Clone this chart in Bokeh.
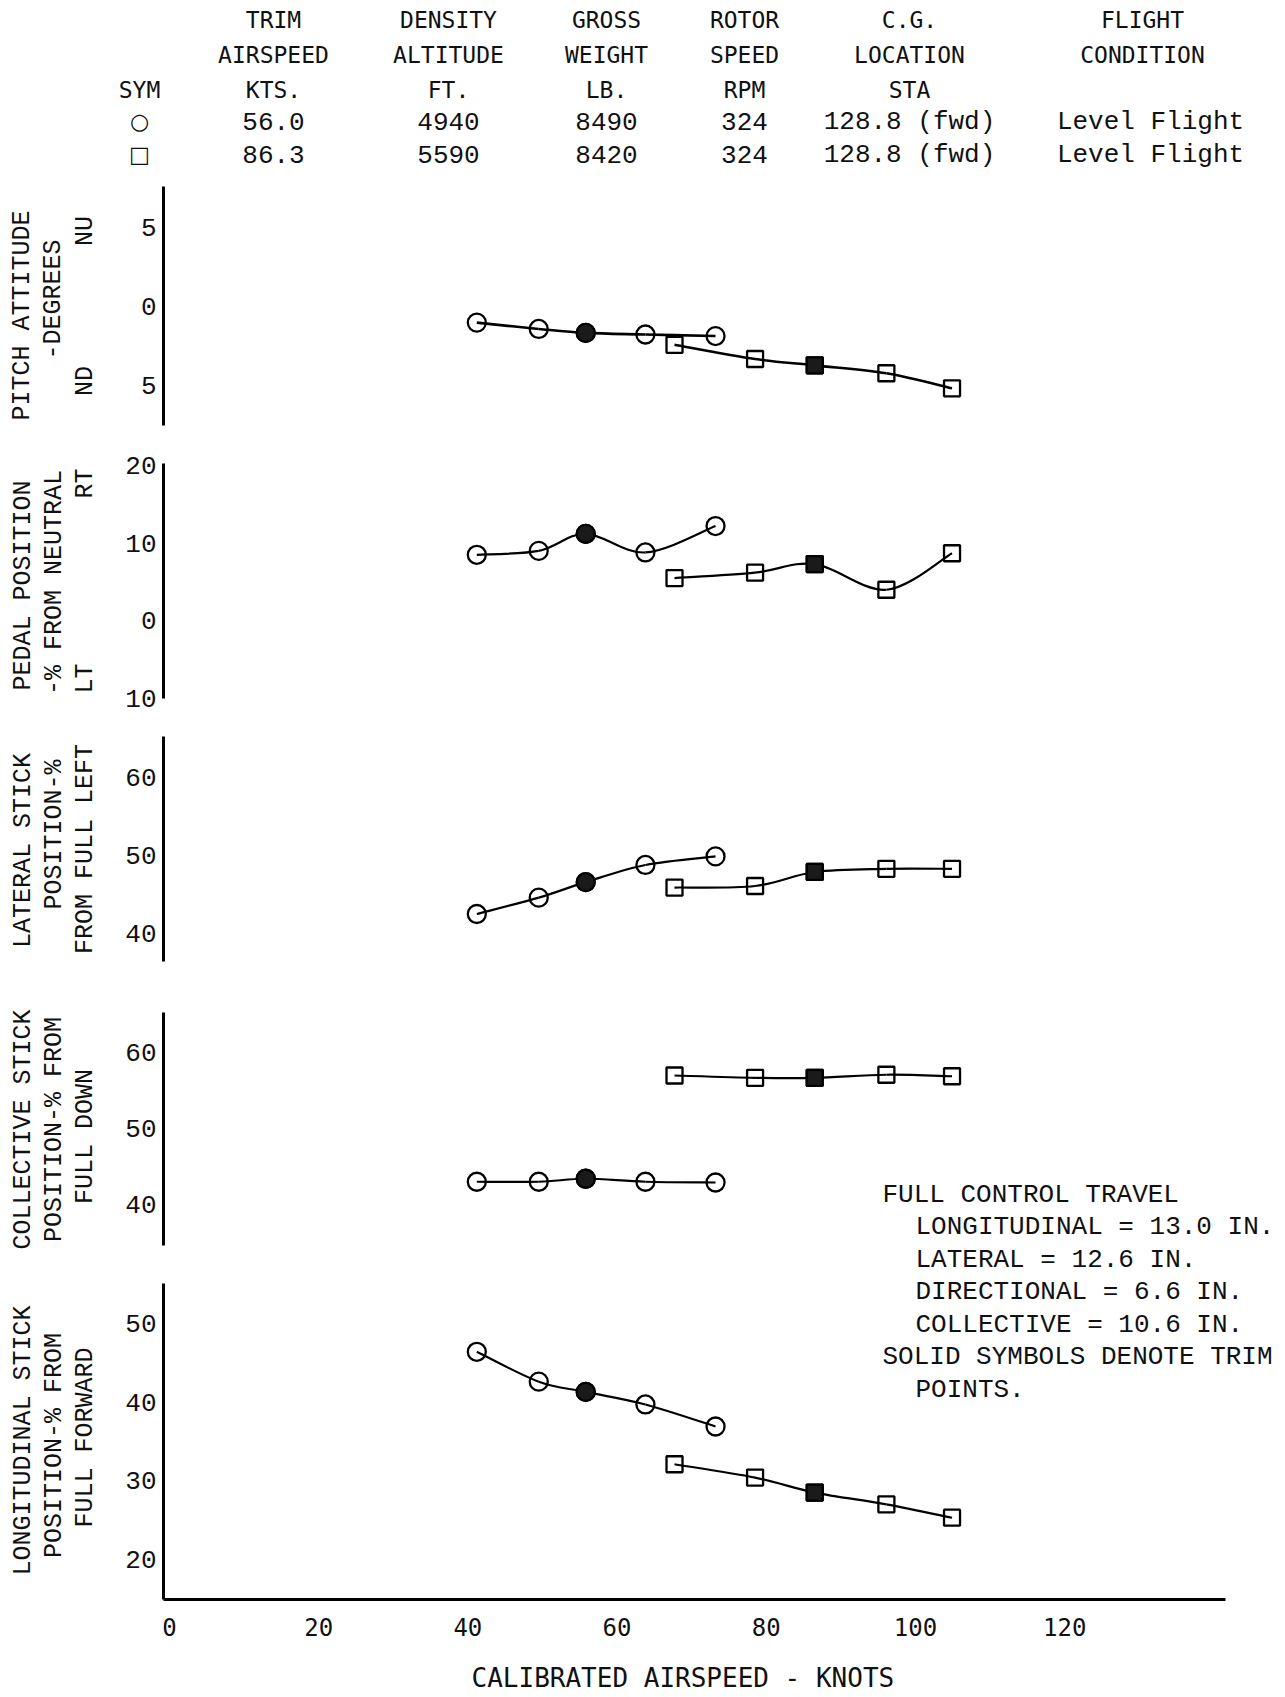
import math
from bokeh.plotting import figure
from bokeh.layouts import column
from bokeh.models import Range1d, Label, ColumnDataSource, FixedTicker, Title
from bokeh.core.properties import value
from bokeh.embed import file_html
from bokeh.resources import INLINE

# ---------------- data ----------------
header_line1 = ["", "TRIM", "DENSITY", "GROSS", "ROTOR", "C.G.", "FLIGHT"]
header_line2 = ["", "AIRSPEED", "ALTITUDE", "WEIGHT", "SPEED", "LOCATION", "CONDITION"]
header_units = ["SYM", "KTS.", "FT.", "LB.", "RPM", "STA", ""]
row_circle = ["\u25cb", "56.0", "4940", "8490", "324", "128.8 (fwd)", "Level Flight"]
row_square = ["\u25a1", "86.3", "5590", "8420", "324", "128.8 (fwd)", "Level Flight"]

airspeed_circle = [41.2, 49.5, 55.8, 63.8, 73.2]
airspeed_square = [67.7, 78.5, 86.5, 96.1, 104.9]
trim_index = 2

pitch_circle = [-1.0, -1.4, -1.65, -1.75, -1.85]
pitch_square = [-2.4, -3.3, -3.7, -4.2, -5.15]
pedal_circle = [8.5, 9.0, 11.2, 8.8, 12.2]
pedal_square = [5.5, 6.2, 7.3, 4.0, 8.7]
lateral_circle = [42.5, 44.6, 46.6, 48.8, 49.9]
lateral_square = [45.9, 46.1, 47.9, 48.3, 48.3]
collective_circle = [43.0, 43.0, 43.4, 43.0, 42.9]
collective_square = [57.0, 56.7, 56.7, 57.1, 56.9]
longitudinal_circle = [46.4, 42.6, 41.3, 39.7, 36.9]
longitudinal_square = [32.1, 30.4, 28.5, 27.0, 25.3]

x_ticks = [0, 20, 40, 60, 80, 100, 120]
x_title = "CALIBRATED AIRSPEED - KNOTS"

note_lines = ["FULL CONTROL TRAVEL", "LONGITUDINAL = 13.0 IN.", "LATERAL = 12.6 IN.",
              "DIRECTIONAL = 6.6 IN.", "COLLECTIVE = 10.6 IN.",
              "SOLID SYMBOLS DENOTE TRIM", "POINTS."]

NB = "\u00a0"
# ---------------- layout constants ----------------
W = 1280
FRAME_LEFT = 163
PX_PER_KT = 7.46
X0 = -0.8
X_AXIS_END = 141.5
XR = (X0, X0 + (W - FRAME_LEFT) / PX_PER_KT)
MONO = "Liberation Mono"
SANSMONO = "DejaVu Sans Mono"
LBL_FS = 25

x_range = Range1d(*XR)


def page_x(px):
    return XR[0] + (px - FRAME_LEFT) / PX_PER_KT


def smooth(p, xs, ys, lw):
    pts = list(zip(xs, ys))
    ext = [pts[0]] + pts + [pts[-1]]
    d = dict(x0=[], y0=[], x1=[], y1=[], cx0=[], cy0=[], cx1=[], cy1=[])
    for i in range(len(pts) - 1):
        p0, p1, p2, p3 = ext[i], ext[i + 1], ext[i + 2], ext[i + 3]
        d["x0"].append(p1[0]); d["y0"].append(p1[1])
        d["x1"].append(p2[0]); d["y1"].append(p2[1])
        d["cx0"].append(p1[0] + (p2[0] - p0[0]) / 6); d["cy0"].append(p1[1] + (p2[1] - p0[1]) / 6)
        d["cx1"].append(p2[0] - (p3[0] - p1[0]) / 6); d["cy1"].append(p2[1] - (p3[1] - p1[1]) / 6)
    p.bezier(x0="x0", y0="y0", x1="x1", y1="y1", cx0="cx0", cy0="cy0", cx1="cx1", cy1="cy1",
             source=ColumnDataSource(d), line_color="black", line_width=lw)


def series(p, xs, ys, marker, size, lw):
    smooth(p, xs, ys, lw)
    p.scatter(xs, ys, marker=marker, size=size, fill_color=None, line_color="black", line_width=2.3)
    p.scatter([xs[trim_index]], [ys[trim_index]], marker=marker, size=size,
              fill_color="#1a1a1a", line_color="black", line_width=2.3)


# ---------------- header ----------------
HDR_H = 175
hdr = figure(width=W, height=HDR_H, x_range=Range1d(0, W), y_range=Range1d(HDR_H, 0),
             output_backend="svg", toolbar_location=None, x_axis_location=None,
             y_axis_location=None, min_border=0)
if hasattr(hdr, "frame_align"):
    hdr.frame_align = False
hdr.grid.visible = False
hdr.outline_line_color = None
col_x = [139, 273, 448, 606, 744, 909, 1142]
row_y = [19.5, 54, 89, 121, 154]
hx, hy, ht = [], [], []
for r, row in enumerate([header_line1, header_line2, header_units]):
    for c, t in enumerate(row):
        if t:
            hx.append(col_x[c]); hy.append(row_y[r]); ht.append(t)
hdr.text(x=hx, y=hy, text=ht, text_font=value(SANSMONO), text_font_size="23px",
         text_align="center", text_baseline="middle", text_color="#111")
vx, vy, vt = [], [], []
for r, row in zip([3, 4], [row_circle, row_square]):
    for c, t in enumerate(row):
        if c == 0:
            continue
        vx.append(col_x[c] + (8 if c == 6 else 0)); vy.append(row_y[r]); vt.append(t)
hdr.text(x=vx, y=vy, text=vt, text_font=value(MONO), text_font_size="26px",
         text_align="center", text_baseline="middle", text_color="#111")
hdr.text(x=[col_x[0], col_x[0]], y=[row_y[3], row_y[4]], text=[row_circle[0], row_square[0]],
         text_font=value("DejaVu Sans"), text_font_size="22px",
         text_align="center", text_baseline="middle", text_color="#111")


# ---------------- panels ----------------
def make_panel(height, fig_top, b_top, b_bot, yr, bounds, ticks, overrides, labels, notes,
               label_chars=2, show_x=False):
    p = figure(width=W, height=height, x_range=x_range, y_range=Range1d(*yr),
               output_backend="svg", toolbar_location=None,
               x_axis_location="below" if show_x else None,
               min_border_left=FRAME_LEFT, min_border_right=0,
               min_border_top=b_top, min_border_bottom=b_bot)
    p.grid.visible = False
    p.outline_line_color = None
    frame_top = fig_top + b_top
    frame_bot = fig_top + height - b_bot

    def page_y(py):
        return yr[1] - (py - frame_top) / (frame_bot - frame_top) * (yr[1] - yr[0])

    ax = p.yaxis[0]
    ax.ticker = FixedTicker(ticks=ticks)
    ax.major_label_overrides = overrides
    if bounds is not None:
        ax.bounds = bounds
    ax.axis_line_width = 3
    ax.axis_line_color = "black"
    ax.major_tick_line_color = None
    ax.minor_tick_line_color = None
    ax.major_tick_out = 0
    ax.major_tick_in = 0
    ax.major_label_standoff = 7
    ax.major_label_text_font = MONO
    ax.major_label_text_font_size = "26px"
    ax.major_label_text_color = "#111"
    # innermost rotated line is the axis label, the two outer ones are titles
    ax.axis_label = labels[2][0]
    ax.axis_label_text_font = MONO
    ax.axis_label_text_font_size = f"{LBL_FS}px"
    ax.axis_label_text_font_style = "normal"
    ax.axis_label_text_color = "#111"
    ax.axis_label_standoff = int(round(22 + (2 - label_chars) * 15.6))
    for k, (t, center) in enumerate([labels[1], labels[0]]):
        w = len(t) * 0.6 * LBL_FS
        off = (frame_bot - center) - w / 2
        p.add_layout(Title(text=t, align="left", offset=off, standoff=0,
                           text_font=MONO, text_font_size=f"{LBL_FS}px",
                           text_font_style="normal", text_color="#111"), "left")
    for (px, py, t) in notes:
        p.add_layout(Label(x=page_x(px), y=page_y(py), text=t,
                           text_font=MONO, text_font_size="26px", text_color="#111",
                           text_align="left", text_baseline="middle"))
    if show_x:
        xa = p.xaxis[0]
        xa.ticker = FixedTicker(ticks=x_ticks)
        xa.bounds = (X0, X_AXIS_END)
        xa.axis_line_width = 3
        xa.axis_line_color = "black"
        xa.major_tick_line_color = None
        xa.minor_tick_line_color = None
        xa.major_tick_out = 0
        xa.major_tick_in = 0
        xa.major_label_standoff = 18
        xa.major_label_text_font = SANSMONO
        xa.major_label_text_font_size = "24px"
        xa.major_label_text_color = "#111"
        # trailing no-break spaces shift the centred title left, over the drawn axis
        xa.axis_label = x_title + NB * 5
        xa.axis_label_text_font = SANSMONO
        xa.axis_label_text_font_size = "26px"
        xa.axis_label_text_font_style = "normal"
        xa.axis_label_text_color = "#111"
        xa.axis_label_standoff = 24
    return p


p1 = make_panel(270, 175, 11, 20, (-7.5, 7.6), None, [5, 0, -5], {-5: "5"},
                [("PITCH ATTITUDE", 315), ("-DEGREES", 299), ("ND" + NB * 8 + "NU", 307)],
                [], label_chars=1)
series(p1, airspeed_circle, pitch_circle, "circle", 18, 2.6)
series(p1, airspeed_square, pitch_square, "square", 16, 2.6)

p2 = make_panel(273, 445, 18, 20, (-10, 20.25), None, [20, 10, 0, -10], {-10: "10"},
                [("PEDAL POSITION", 585), ("-% FROM NEUTRAL", 582), ("LT" + NB * 11 + "RT", 583)],
                [])
series(p2, airspeed_circle, pedal_circle, "circle", 18, 2.2)
series(p2, airspeed_square, pedal_square, "square", 16, 2.2)

p3 = make_panel(272, 718, 18, 29, (36.4, 65.3), None, [40, 50, 60], {},
                [("LATERAL STICK", 850), ("POSITION-%", 834), ("FROM FULL LEFT", 850)], [])
series(p3, airspeed_circle, lateral_circle, "circle", 18, 2.2)
series(p3, airspeed_square, lateral_square, "square", 16, 2.2)

note_x = [882, 915, 915, 915, 915, 882, 915]
note_y = [1194, 1226.5, 1259, 1291.5, 1324, 1356.5, 1389]
note = list(zip(note_x, note_y, note_lines))

p4 = make_panel(285, 990, 22, 0, (30.65, 65.3), (34.6, 65.3), [40, 50, 60], {},
                [("COLLECTIVE STICK", 1129), ("POSITION-% FROM", 1129), (NB + "FULL DOWN", 1137)],
                note[:3])
series(p4, airspeed_circle, collective_circle, "circle", 18, 2.2)
series(p4, airspeed_square, collective_square, "square", 16, 2.2)

p5 = make_panel(420, 1275, 0, 96, (14.9, 56.1), (14.9, 55.1), [20, 30, 40, 50], {},
                [("LONGITUDINAL STICK", 1440), ("POSITION-% FROM", 1445), ("FULL FORWARD", 1440)],
                note[3:], show_x=True)
series(p5, airspeed_circle, longitudinal_circle, "circle", 18, 2.2)
series(p5, airspeed_square, longitudinal_square, "square", 16, 2.2)

layout = column(hdr, p1, p2, p3, p4, p5, spacing=0)
open("out.html", "w").write(file_html(layout, INLINE))
